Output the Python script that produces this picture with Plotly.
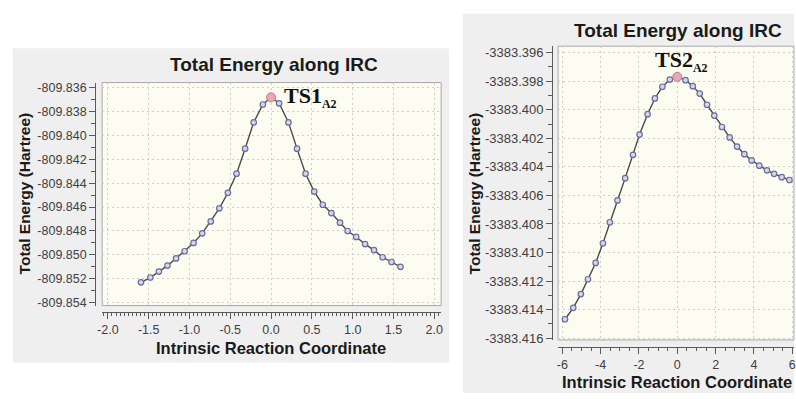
import plotly.graph_objects as go

# IRC scan 1 (TS1_A2)
irc1_x = [-1.594, -1.480, -1.375, -1.270, -1.164, -1.059, -0.950, -0.844, -0.739, -0.634,
          -0.529, -0.423, -0.318, -0.213, -0.100, 0.0, 0.099, 0.213, 0.318, 0.423,
          0.529, 0.634, 0.739, 0.845, 0.938, 1.043, 1.152, 1.261, 1.367, 1.476, 1.586]
irc1_e = [-809.8523, -809.8519, -809.8514, -809.8509, -809.8503, -809.8497, -809.8490,
          -809.8482, -809.8472, -809.8461, -809.8448, -809.8432, -809.8411, -809.8389,
          -809.8374, -809.8368, -809.8373, -809.8389, -809.8411, -809.8432, -809.8447,
          -809.8458, -809.8465, -809.8473, -809.8480, -809.8485, -809.8491, -809.8496,
          -809.8502, -809.8506, -809.8510]
ts1_index = 15

# IRC scan 2 (TS2_A2)
irc2_x = [-5.86, -5.43, -5.03, -4.66, -4.26, -3.88, -3.52, -3.12, -2.72, -2.31, -1.97,
          -1.55, -1.17, -0.78, -0.39, 0.0, 0.43, 0.81, 1.17, 1.55, 1.93, 2.33, 2.73,
          3.12, 3.50, 3.88, 4.28, 4.68, 5.05, 5.45, 5.85]
irc2_e = [-3383.41467, -3383.41387, -3383.41291, -3383.41187, -3383.41073, -3383.40935,
          -3383.40788, -3383.40635, -3383.40479, -3383.40316, -3383.40174, -3383.40031,
          -3383.39921, -3383.39839, -3383.39789, -3383.39770, -3383.39793, -3383.39835,
          -3383.39887, -3383.39965, -3383.40041, -3383.40121, -3383.40194, -3383.40258,
          -3383.40311, -3383.40355, -3383.40392, -3383.40424, -3383.40449, -3383.40472,
          -3383.40492]
ts2_index = 15

# tick labels
x1_ticks = [-2.0, -1.5, -1.0, -0.5, 0.0, 0.5, 1.0, 1.5, 2.0]
x1_text = ["-2.0", "-1.5", "-1.0", "-0.5", "0.0", "0.5", "1.0", "1.5", "2.0"]
y1_ticks = [-809.836, -809.838, -809.840, -809.842, -809.844, -809.846, -809.848,
            -809.850, -809.852, -809.854]
y1_text = ["-809.836", "-809.838", "-809.840", "-809.842", "-809.844", "-809.846",
           "-809.848", "-809.850", "-809.852", "-809.854"]
x2_ticks = [-6, -4, -2, 0, 2, 4, 6]
x2_text = ["-6", "-4", "-2", "0", "2", "4", "6"]
y2_ticks = [-3383.396, -3383.398, -3383.400, -3383.402, -3383.404, -3383.406,
            -3383.408, -3383.410, -3383.412, -3383.414, -3383.416]
y2_text = ["-3383.396", "-3383.398", "-3383.400", "-3383.402", "-3383.404", "-3383.406",
           "-3383.408", "-3383.410", "-3383.412", "-3383.414", "-3383.416"]

W, H = 796, 399


def px(x):
    return x / W


def py(y):
    return 1 - y / H


LINE = "#4a4a4a"
MARK_EDGE = "#6a6e9c"
MARK_FILL = "#d4d6ea"
TS_FILL = "#e7a9b8"
TS_EDGE = "#c77a8c"
PANEL = "#efefef"
PLOT_BG = "#fdfcf1"
AXIS = "#5a5a5a"
SANS = "Liberation Sans, Arial, sans-serif"
SERIF = "Liberation Serif, Times New Roman, serif"

fig = go.Figure()

for xs, es, ti, xa, ya in [(irc1_x, irc1_e, ts1_index, "x", "y"),
                           (irc2_x, irc2_e, ts2_index, "x2", "y2")]:
    fig.add_trace(go.Scatter(
        x=xs, y=es, mode="lines+markers", xaxis=xa, yaxis=ya,
        line=dict(color=LINE, width=1.4),
        marker=dict(symbol="circle", size=5.5, color=MARK_FILL,
                    line=dict(color=MARK_EDGE, width=1.2)),
        showlegend=False, hoverinfo="x+y"))
    fig.add_trace(go.Scatter(
        x=[xs[ti]], y=[es[ti]], mode="markers", xaxis=xa, yaxis=ya,
        marker=dict(symbol="circle", size=9, color=TS_FILL,
                    line=dict(color=TS_EDGE, width=1)),
        showlegend=False, hoverinfo="x+y"))

# plot-area boxes (pixels)
p1 = dict(l=98, r=440, t=83, b=310)
p2 = dict(l=558, r=796, t=46, b=345)

grid = dict(showgrid=True, gridcolor="#cfcfcf", griddash="2px,3px", gridwidth=1,
            zeroline=False)
tickfont1 = dict(family=SANS, size=12.5, color="#404040")
tickfont2x = dict(family=SANS, size=12.5, color="#404040")
tickfont2y = dict(family=SANS, size=13, color="#404040")

fig.update_layout(
    width=W, height=H, margin=dict(l=0, r=0, t=0, b=0),
    paper_bgcolor="white", plot_bgcolor="rgba(0,0,0,0)",
    xaxis=dict(domain=[px(p1["l"]), px(p1["r"])], range=[-2.07, 2.084],
               anchor="free", position=py(316.5),
               tickvals=x1_ticks, ticktext=x1_text, ticks="outside", ticklen=6,
               tickcolor=AXIS, showline=True, linecolor=AXIS, linewidth=1,
               minor=dict(dtick=0.05, tick0=0, ticks="outside", ticklen=3,
                          tickcolor=AXIS, showgrid=False),
               tickfont=tickfont1, fixedrange=True, **grid),
    yaxis=dict(domain=[py(p1["b"]), py(p1["t"])], range=[-809.85425, -809.83556],
               anchor="free", position=px(91),
               tickvals=y1_ticks, ticktext=y1_text, ticks="outside", ticklen=6,
               tickcolor=AXIS, showline=True, linecolor=AXIS, linewidth=1,
               minor=dict(dtick=0.001, tick0=0, ticks="outside", ticklen=4,
                          tickcolor=AXIS, showgrid=False),
               tickfont=tickfont1, fixedrange=True, **grid),
    xaxis2=dict(domain=[px(p2["l"]), px(p2["r"])], range=[-6.22, 6.09],
                anchor="free", position=py(352.5),
                tickvals=x2_ticks, ticktext=x2_text, ticks="outside", ticklen=6,
                tickcolor=AXIS, showline=True, linecolor=AXIS, linewidth=1,
                minor=dict(dtick=0.5, tick0=0, ticks="outside", ticklen=3,
                           tickcolor=AXIS, showgrid=False),
                tickfont=tickfont2x, fixedrange=True, **grid),
    yaxis2=dict(domain=[py(p2["b"]), py(p2["t"])], range=[-3383.41612, -3383.39555],
                anchor="free", position=px(552),
                tickvals=y2_ticks, ticktext=y2_text, ticks="outside", ticklen=6,
                tickcolor=AXIS, showline=True, linecolor=AXIS, linewidth=1,
                minor=dict(dtick=0.001, tick0=0, ticks="outside", ticklen=4,
                           tickcolor=AXIS, showgrid=False),
                tickfont=tickfont2y, fixedrange=True, **grid),
)

# panel backgrounds and plot areas
shapes = []
for l, t, r, b in [(8, 48, 448, 368), (462, 13, 796, 399)]:
    shapes.append(dict(type="rect", xref="paper", yref="paper", layer="below",
                       x0=px(l), x1=px(r), y0=py(b), y1=py(t),
                       fillcolor=PANEL, line=dict(width=0)))
for p in (p1, p2):
    shapes.append(dict(type="rect", xref="paper", yref="paper", layer="below",
                       x0=px(p["l"]), x1=px(p["r"]), y0=py(p["b"]), y1=py(p["t"]),
                       fillcolor=PLOT_BG, line=dict(color="#a8a8a8", width=1)))
fig.update_layout(shapes=shapes)

title_font = dict(family=SANS, size=19, color="#1a1a1a")
axis_font = dict(family=SANS, size=16.5, color="#1a1a1a")
ytitle_font = dict(family=SANS, size=15.5, color="#1a1a1a")

annotations = [
    dict(text="<b>Total Energy along IRC</b>", x=px(271), y=py(65), font=title_font),
    dict(text="<b>Total Energy along IRC</b>", x=px(679), y=py(30), font=title_font),
    dict(text="<b>Intrinsic Reaction Coordinate</b>", x=px(268), y=py(353), font=axis_font),
    dict(text="<b>Intrinsic Reaction Coordinate</b>", x=px(678), y=py(388), font=axis_font),
    dict(text="<b>Total Energy (Hartree)</b>", x=px(20), y=py(196), textangle=-90,
         font=ytitle_font),
    dict(text="<b>Total Energy (Hartree)</b>", x=px(474), y=py(196), textangle=-90,
         font=ytitle_font),
]
for a in annotations:
    a.update(xref="paper", yref="paper", showarrow=False,
             xanchor="center", yanchor="middle")

annotations += [
    dict(text="<b>TS1<sub><span style='font-size:12px'>A2</span></sub></b>",
         xref="x", yref="y",
         x=irc1_x[ts1_index] + 0.14, y=irc1_e[ts1_index] + 0.00003,
         xanchor="left", yanchor="middle", showarrow=False,
         font=dict(family=SERIF, size=22, color="#111111")),
    dict(text="<b>TS2<sub><span style='font-size:12px'>A2</span></sub></b>",
         xref="x2", yref="y2",
         x=irc2_x[ts2_index] + 0.24, y=irc2_e[ts2_index] + 0.00108,
         xanchor="center", yanchor="middle", showarrow=False,
         font=dict(family=SERIF, size=22, color="#111111")),
]
fig.update_layout(annotations=annotations)

fig.write_html("out.html")
